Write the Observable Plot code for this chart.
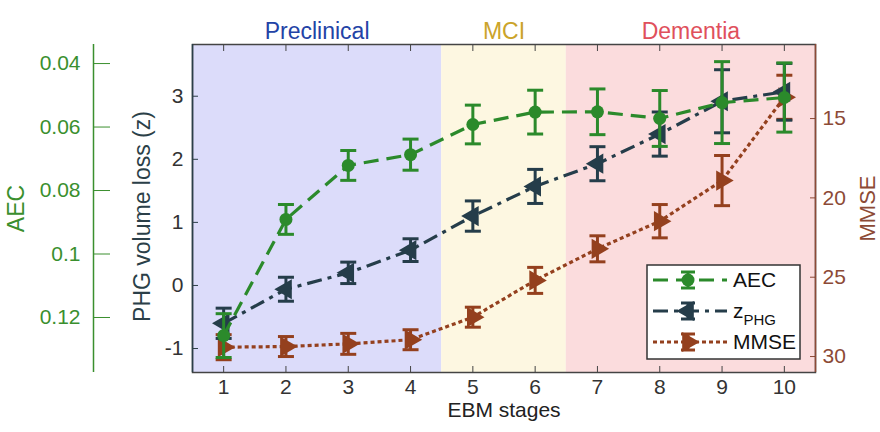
<!DOCTYPE html>
<html>
<head>
<meta charset="utf-8">
<script src="https://cdn.jsdelivr.net/npm/d3@7"></script>
<script src="https://cdn.jsdelivr.net/npm/@observablehq/plot@0.6"></script>
<style>
  body { margin: 0; background: #fff; }
  #chart { width: 880px; height: 432px; }
</style>
</head>
<body>
<div id="chart"></div>
<script>
// EBM stages on the x axis
const stages = [1, 2, 3, 4, 5, 6, 7, 8, 9, 10];

// AEC (left outer axis, reversed)
const aecMean = [0.1257, 0.0891, 0.0721, 0.0687, 0.0592, 0.0553, 0.0552, 0.0573, 0.0523, 0.0507];
const aecErr  = [0.0069, 0.0047, 0.0047, 0.0049, 0.0061, 0.0069, 0.0072, 0.0088, 0.0129, 0.0109];

// PHG volume loss, z-score (left inner axis)
const zMean = [-0.60, -0.06, 0.20, 0.56, 1.10, 1.57, 1.93, 2.40, 2.92, 3.07];
const zErr  = [0.24, 0.19, 0.17, 0.18, 0.24, 0.27, 0.27, 0.35, 0.50, 0.45];

// MMSE (right axis, reversed)
const mmseMean = [29.41, 29.37, 29.20, 28.94, 27.52, 25.20, 23.21, 21.47, 18.91, 13.66];
const mmseErr  = [0.79, 0.63, 0.66, 0.63, 0.63, 0.82, 0.82, 1.05, 1.58, 1.39];

// Clinical phases shaded behind the series
const phaseNames = ["Preclinical", "MCI", "Dementia"];
const phaseStart = [0.5, 4.5, 6.5];
const phaseEnd   = [4.5, 6.5, 10.5];
const phaseFill  = ["#dcdcfa", "#fdf7e1", "#fbdcdd"];
const phaseInk   = ["#2343a6", "#cba42a", "#e0505c"];

// Axis ticks
const zTicks = [-1, 0, 1, 2, 3];
const aecTicks = [0.04, 0.06, 0.08, 0.1, 0.12];
const mmseTicks = [15, 20, 25, 30];

// Colours
const aecColor = "#2b8a2b", aecInk = "#3a8f2e";
const zColor = "#253d4a", zInk = "#2b3f48";
const mmseColor = "#94401e", mmseInk = "#8c4a36";
const frameInk = "#444";

// Dash patterns
const aecDash = "15,8";
const zDash = "15,6,4,6";
const mmseDash = "4,3";

// AEC and MMSE share the z-score y scale through these linear maps
const aecToZ = d3.scaleLinear([0.04, 0.12], [3.518, -0.508]);
const mmseToZ = d3.scaleLinear([15, 30], [2.646, -1.127]);

function rows(mean, err, toZ) {
  return stages.map((s, i) => ({
    stage: s,
    y: toZ(mean[i]),
    lo: toZ(mean[i] - err[i]),
    hi: toZ(mean[i] + err[i])
  }));
}
const ident = d => d;
const aecRows = rows(aecMean, aecErr, aecToZ);
const zRows = rows(zMean, zErr, ident);
const mmseRows = rows(mmseMean, mmseErr, mmseToZ);

const phases = phaseNames.map((name, i) => ({
  name, x1: phaseStart[i], x2: phaseEnd[i], mid: (phaseStart[i] + phaseEnd[i]) / 2,
  fill: phaseFill[i], ink: phaseInk[i]
}));

// horizontal cap for error bars
const capSymbol = {
  draw(ctx, size) {
    const w = Math.sqrt(size / Math.PI);
    ctx.moveTo(-w, 0);
    ctx.lineTo(w, 0);
  }
};

function seriesMarks(data, color, dash, symbol, rotate) {
  return [
    Plot.line(data, {x: "stage", y: "y", stroke: color, strokeWidth: 3.2, strokeDasharray: dash, strokeLinecap: "butt"}),
    Plot.ruleX(data, {x: "stage", y1: "lo", y2: "hi", stroke: color, strokeWidth: 3}),
    Plot.dot(data, {x: "stage", y: "lo", symbol: capSymbol, r: 8, stroke: color, strokeWidth: 3, fill: "none"}),
    Plot.dot(data, {x: "stage", y: "hi", symbol: capSymbol, r: 8, stroke: color, strokeWidth: 3, fill: "none"}),
    Plot.dot(data, {x: "stage", y: "y", symbol, rotate, r: symbol === "circle" ? 6.5 : 7.5, fill: color, stroke: "none"})
  ];
}

const fontFamily = "'Liberation Sans', Arial, Helvetica, sans-serif";

const chart = Plot.plot({
  width: 880,
  height: 432,
  marginLeft: 192,
  marginRight: 65,
  marginTop: 44,
  marginBottom: 60,
  style: {fontFamily, fontSize: "20px", background: "#fff", overflow: "visible"},
  x: {domain: [0.5, 10.5], axis: null},
  y: {domain: [-1.38, 3.82], axis: null},
  marks: [
    Plot.rect(phases, {x1: "x1", x2: "x2", fill: "fill"}),
    Plot.text(phases, {x: "mid", text: "name", fill: "ink", frameAnchor: "top", dy: -22, fontSize: 23}),

    // stage axis, ticks inside the box on both edges
    Plot.axisX(stages, {anchor: "bottom", tickSize: -6, tickPadding: 13, stroke: frameInk, fill: "#333", fontSize: 21, label: null,
      tickFormat: d => String(d)}),
    Plot.axisX(stages, {anchor: "top", tickSize: -6, stroke: frameInk, fill: "none", label: null}),

    // z-score axis
    Plot.axisY(zTicks, {anchor: "left", tickSize: -6, tickPadding: 15, stroke: zInk, fill: "#333", fontSize: 21, label: null,
      tickFormat: d => String(d)}),

    // MMSE axis on the right
    Plot.axisY(mmseTicks.map(mmseToZ), {anchor: "right", tickSize: -6, tickPadding: 13, stroke: mmseInk, fill: mmseInk, fontSize: 21, label: null,
      tickFormat: d => String(Math.round(mmseToZ.invert(d)))}),

    // AEC axis, offset to the far left
    Plot.ruleX([0.5], {dx: -99, stroke: aecInk, strokeWidth: 1.5}),
    Plot.axisY(aecTicks.map(aecToZ), {anchor: "left", dx: -99, tickSize: -17, tickPadding: 30, stroke: aecInk, fill: aecInk, fontSize: 21, label: null,
      tickFormat: d => String(+aecToZ.invert(d).toFixed(2))}),

    // box
    Plot.frame({stroke: frameInk, strokeWidth: 1.5}),
    Plot.ruleX([0.5], {stroke: zInk, strokeWidth: 1.5}),
    Plot.ruleX([10.5], {stroke: mmseInk, strokeWidth: 1.5}),

    // series
    ...seriesMarks(mmseRows, mmseColor, mmseDash, "triangle", 90),
    ...seriesMarks(zRows, zColor, zDash, "triangle", -90),
    ...seriesMarks(aecRows, aecColor, aecDash, "circle", 0),

    // axis titles
    Plot.text(["AEC"], {frameAnchor: "left", dx: -176, rotate: -90, textAnchor: "middle", fill: aecInk, fontSize: 23}),
    Plot.text(["PHG volume loss (z)"], {frameAnchor: "left", dx: -50, dy: 8, rotate: -90, textAnchor: "middle", fill: zInk, fontSize: 23}),
    Plot.text(["MMSE"], {frameAnchor: "right", dx: 52, rotate: -90, textAnchor: "middle", fill: mmseInk, fontSize: 22}),
    Plot.text(["EBM stages"], {frameAnchor: "bottom", dy: 44, textAnchor: "middle", fill: "#222", fontSize: 21})
  ]
});

// legend box in the lower right of the plot
const svg = d3.select(chart);
const legend = svg.append("g").attr("font-family", fontFamily).attr("font-size", 21).attr("text-anchor", "start");
legend.append("rect").attr("x", 647).attr("y", 265).attr("width", 153).attr("height", 94)
  .attr("fill", "#fff").attr("stroke", "#333").attr("stroke-width", 1.5);
const legendItems = [
  {label: "AEC", sub: null, color: aecColor, dash: aecDash, symbol: d3.symbolCircle, r: 6.5, rotate: 0},
  {label: "z", sub: "PHG", color: zColor, dash: zDash, symbol: d3.symbolTriangle, r: 7.5, rotate: -90},
  {label: "MMSE", sub: null, color: mmseColor, dash: mmseDash, symbol: d3.symbolTriangle, r: 7.5, rotate: 90}
];
legendItems.forEach((it, i) => {
  const cy = 280 + i * 31;
  const g = legend.append("g");
  g.append("line").attr("x1", 653).attr("x2", 727).attr("y1", cy).attr("y2", cy)
    .attr("stroke", it.color).attr("stroke-width", 3.2).attr("stroke-dasharray", it.dash);
  g.append("line").attr("x1", 688).attr("x2", 688).attr("y1", cy - 8).attr("y2", cy + 8)
    .attr("stroke", it.color).attr("stroke-width", 3);
  [cy - 8, cy + 8].forEach(yy => g.append("line").attr("x1", 681).attr("x2", 695).attr("y1", yy).attr("y2", yy)
    .attr("stroke", it.color).attr("stroke-width", 3));
  g.append("path").attr("d", d3.symbol(it.symbol, Math.PI * it.r * it.r)())
    .attr("transform", `translate(688,${cy}) rotate(${it.rotate})`).attr("fill", it.color);
  const t = g.append("text").attr("x", 733).attr("y", cy).attr("dy", "0.35em").attr("fill", "#111");
  t.append("tspan").text(it.label);
  if (it.sub) t.append("tspan").attr("font-size", 15).attr("dy", "0.45em").text(it.sub);
});

document.getElementById("chart").appendChild(chart);
</script>
</body>
</html>
